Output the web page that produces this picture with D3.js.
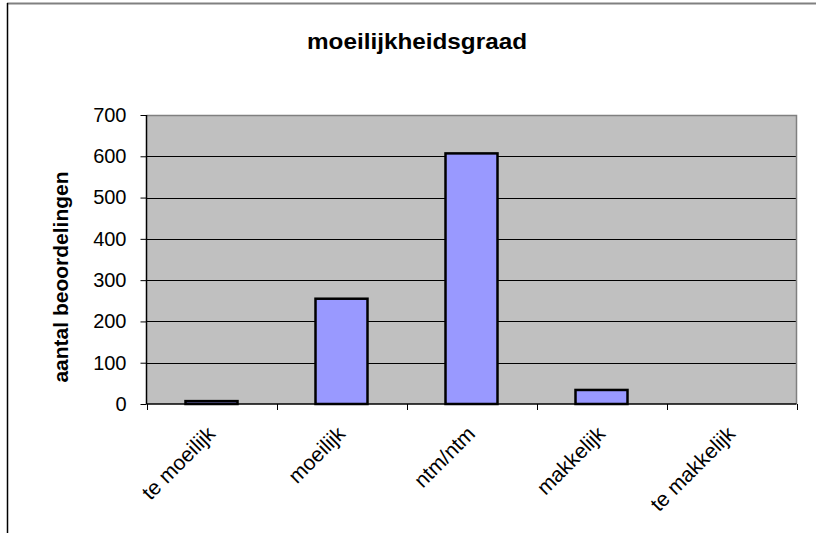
<!DOCTYPE html>
<html>
<head>
<meta charset="utf-8">
<script src="https://cdn.jsdelivr.net/npm/d3@7"></script>
<style>
  html, body { margin: 0; padding: 0; background: #fff; }
  svg { display: block; }
  text { font-family: "Liberation Sans", Arial, sans-serif; }
</style>
</head>
<body>
<svg id="chart" width="816" height="533"></svg>
<script>
const categories = ["te moeilijk", "moeilijk", "ntm/ntm", "makkelijk", "te makkelijk"];
const values = [7, 255, 607, 34, 0];
const yTicks = [0, 100, 200, 300, 400, 500, 600, 700];
const title = "moeilijkheidsgraad";
const yTitle = "aantal beoordelingen";

const svg = d3.select("#chart");
const m = { left: 146.5, right: 796.5, top: 115, bottom: 404 };

// outer chart frame
svg.append("line").attr("x1", 7).attr("x2", 816).attr("y1", 3.5).attr("y2", 3.5)
  .attr("stroke", "#808080").attr("stroke-width", 2);
svg.append("line").attr("x1", 7.5).attr("x2", 7.5).attr("y1", 3).attr("y2", 533)
  .attr("stroke", "#000").attr("stroke-width", 1.5);

const x = d3.scaleBand().domain(categories).range([m.left, m.right]).paddingInner(0.6).paddingOuter(0.3);
const xb = d3.scaleBand().domain(categories).range([m.left, m.right]);
const y = d3.scaleLinear().domain([0, 700]).range([m.bottom, m.top]);

// plot background
svg.append("rect").attr("x", m.left).attr("y", m.top)
  .attr("width", m.right - m.left).attr("height", m.bottom - m.top)
  .attr("fill", "#C0C0C0");

// gridlines
svg.append("g").selectAll("line").data(yTicks.filter(d => d > 0 && d < 700)).join("line")
  .attr("x1", m.left).attr("x2", m.right)
  .attr("y1", d => Math.round(y(d)) + 0.5).attr("y2", d => Math.round(y(d)) + 0.5)
  .attr("stroke", "#000").attr("stroke-width", 1);

// plot border top/right
svg.append("path")
  .attr("d", `M${m.left},${m.top + 0.5}H${m.right}V${m.bottom}`)
  .attr("fill", "none").attr("stroke", "#808080").attr("stroke-width", 1.5);

// bars
svg.append("g").selectAll("rect").data(values).join("rect")
  .attr("x", (d, i) => x(categories[i]))
  .attr("width", x.bandwidth())
  .attr("y", d => y(d))
  .attr("height", d => y(0) - y(d))
  .attr("fill", "#9999FF")
  .attr("stroke", "#000").attr("stroke-width", 2.5)
  .attr("display", d => d > 0 ? null : "none");

// y axis
const yAxis = d3.axisLeft(y).tickValues(yTicks).tickSize(6).tickPadding(14);
const gy = svg.append("g").attr("transform", `translate(${m.left},0)`).call(yAxis);
gy.select(".domain").attr("stroke", "#000").attr("stroke-width", 1.5).attr("d", `M0,${m.top}V${m.bottom}`);
gy.selectAll(".tick line").attr("stroke", "#000");
gy.selectAll(".tick text").attr("font-size", 20).attr("fill", "#000")
  .attr("font-family", "'Liberation Sans', Arial, sans-serif");

// x axis
const xAxis = d3.axisBottom(xb).tickSize(0).tickFormat("");
const gx = svg.append("g").attr("transform", `translate(0,${m.bottom})`).call(xAxis);
gx.select(".domain").attr("stroke", "#000").attr("stroke-width", 1.5).attr("d", `M${m.left},0H${m.right}`);
gx.selectAll(".tick").remove();
const edges = categories.map(c => xb(c)).concat([m.right]);
gx.selectAll("line.edge").data(edges).join("line").attr("class", "edge")
  .attr("x1", d => Math.round(d) + 0.5).attr("x2", d => Math.round(d) + 0.5)
  .attr("y1", 0).attr("y2", 6).attr("stroke", "#000");

// x labels rotated
svg.append("g").selectAll("text").data(categories).join("text")
  .attr("transform", d => `translate(${xb(d) + xb.bandwidth() / 2 + 5},${m.bottom + 31}) rotate(-45)`)
  .attr("text-anchor", "end")
  .attr("font-size", 21).attr("fill", "#000")
  .text(d => d);

// title
svg.append("text").attr("x", 417).attr("y", 48.5).attr("text-anchor", "middle")
  .attr("font-size", 22).attr("font-weight", "bold")
  .attr("textLength", 220).attr("lengthAdjust", "spacingAndGlyphs")
  .text(title);

// y title
svg.append("text")
  .attr("transform", `translate(68,${277}) rotate(-90)`)
  .attr("text-anchor", "middle").attr("font-size", 21).attr("font-weight", "bold")
  .text(yTitle);
</script>
</body>
</html>
